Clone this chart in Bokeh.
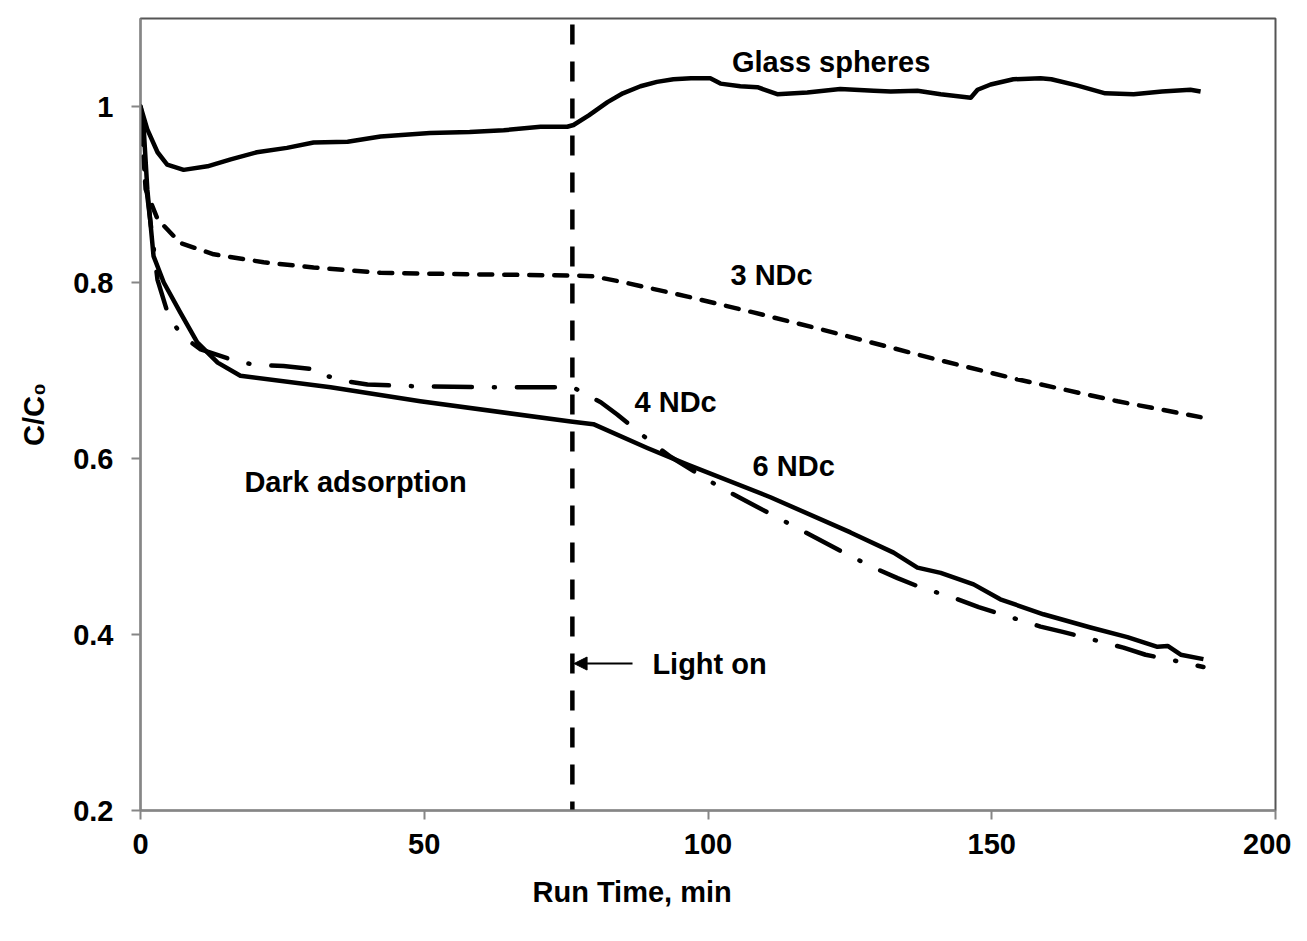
from bokeh.plotting import figure
from bokeh.models import Label, Arrow, NormalHead, FixedTicker, Range1d, Title
from bokeh.embed import file_html
from bokeh.resources import INLINE

# ---- data ----
glass_t = [0, 1.2, 3, 4.7, 7.6, 11.8, 15.9, 20.5, 25.8, 30.5, 36.5, 42.3, 51, 58, 64, 70.5, 75.2, 76.3,
           79, 82.3, 85, 88.1, 91, 93.9, 97, 100.4, 102.2, 105.7, 108.7, 112.2, 117.5, 123.3, 129.2,
           132.2, 136.9, 141, 146.3, 147.5, 149.8, 153.8, 158.6, 160.5, 165, 170, 175, 180, 185, 186.8]
glass_v = [1.0, 0.974, 0.948, 0.934, 0.928, 0.932, 0.940, 0.948, 0.953, 0.959, 0.960, 0.966, 0.970, 0.971,
           0.973, 0.977, 0.977, 0.979, 0.990, 1.005, 1.015, 1.023, 1.028, 1.031, 1.032, 1.032, 1.026,
           1.023, 1.022, 1.014, 1.016, 1.020, 1.018, 1.017, 1.018, 1.014, 1.010, 1.019, 1.025, 1.031,
           1.032, 1.031, 1.024, 1.015, 1.014, 1.017, 1.019, 1.017]

ndc3_t = [0, 0.9, 3.0, 7.0, 12.9, 21.7, 30.5, 42.3, 51.1, 62, 75.8, 79.8, 84.6, 96.4, 108, 119.8, 128.1,
          140, 154.5, 172.2, 186.8]
ndc3_v = [1.0, 0.906, 0.872, 0.845, 0.832, 0.823, 0.817, 0.811, 0.810, 0.809, 0.808, 0.807, 0.801, 0.784,
          0.766, 0.747, 0.733, 0.713, 0.690, 0.665, 0.647]

ndc4_t = [0, 0.9, 3, 5, 7.4, 10.6, 17.6, 21.5, 25.2, 31.2, 32.2, 36.1, 40, 48.8, 62.2, 76.3, 77.5, 81.1,
          84, 89.9, 93.4, 102.2, 116, 125.1, 129.9, 133.4, 136.9, 144, 147.7, 151.2, 158.6, 162.5, 166.2,
          173.2, 177.1, 181, 187.3]
ndc4_v = [1.0, 0.914, 0.803, 0.761, 0.739, 0.724, 0.709, 0.706, 0.705, 0.701, 0.695, 0.688, 0.684, 0.682,
          0.681, 0.681, 0.676, 0.664, 0.650, 0.619, 0.602, 0.567, 0.520, 0.489, 0.474, 0.464, 0.455,
          0.440, 0.431, 0.424, 0.409, 0.403, 0.397, 0.385, 0.377, 0.372, 0.363]

ndc6_t = [0, 0.5, 1.2, 2.3, 4.1, 7, 10, 13.6, 17.6, 33.5, 49.3, 75.8, 79.8, 89.3, 96.4, 111, 125.1, 132.7,
          136.9, 141, 146.8, 151.5, 159.1, 167.4, 173.9, 179.2, 181, 183.3, 187.3]
ndc6_v = [1.0, 0.982, 0.906, 0.830, 0.800, 0.766, 0.732, 0.709, 0.694, 0.681, 0.665, 0.642, 0.639, 0.612,
          0.593, 0.556, 0.516, 0.493, 0.476, 0.470, 0.457, 0.440, 0.423, 0.408, 0.397, 0.386, 0.387,
          0.377, 0.372]

light_on_t = 76.1
x_ticks = [0, 50, 100, 150, 200]
y_ticks = [0.2, 0.4, 0.6, 0.8, 1.0]
y_tick_labels = {0.2: "0.2", 0.4: "0.4", 0.6: "0.6", 0.8: "0.8", 1.0: "1"}

FONT = "Liberation Sans"
FS = "29px"

p = figure(width=1291, height=925, output_backend="svg", toolbar_location=None,
           x_range=Range1d(0, 200), y_range=Range1d(0.2, 1.1))
p.min_border_left = 140
p.min_border_right = 16
p.min_border_top = 18
p.min_border_bottom = 115
p.background_fill_color = "white"
p.border_fill_color = "white"
p.outline_line_color = "#555555"
p.outline_line_width = 2
p.xgrid.visible = False
p.ygrid.visible = False

for ax in (p.xaxis[0], p.yaxis[0]):
    ax.axis_line_color = "#868686"
    ax.axis_line_width = 2
    ax.major_tick_line_color = "#868686"
    ax.major_tick_line_width = 2
    ax.major_tick_out = 9
    ax.major_tick_in = 0
    ax.minor_tick_line_color = None
    ax.major_label_text_font = FONT
    ax.major_label_text_font_style = "bold"
    ax.major_label_text_font_size = FS
    ax.major_label_text_color = "black"

p.xaxis[0].ticker = FixedTicker(ticks=x_ticks)
p.yaxis[0].ticker = FixedTicker(ticks=y_ticks)
p.yaxis[0].major_label_overrides = y_tick_labels
p.xaxis[0].major_label_standoff = 14
p.yaxis[0].major_label_standoff = 18

# y-axis title
p.yaxis[0].axis_label = "C/C\u2080"
p.yaxis[0].axis_label_text_font = FONT
p.yaxis[0].axis_label_text_font_style = "bold"
p.yaxis[0].axis_label_text_font_size = FS
p.yaxis[0].axis_label_text_color = "black"
p.yaxis[0].axis_label_standoff = 20

# x-axis title (offset to the left as in the reference)
p.add_layout(Title(text="Run Time, min", align="left", offset=392, text_font=FONT,
                   text_font_style="bold", text_font_size=FS, text_color="black",
                   standoff=35), "below")

# curves
p.line(glass_t, glass_v, line_color="black", line_width=4.5, line_join="round")
p.line(ndc3_t, ndc3_v, line_color="black", line_width=4.5, line_dash="13 12", line_cap="round",
       line_join="round")
p.line(ndc4_t, ndc4_v, line_color="black", line_width=4.5, line_dash="38 22 1 22", line_cap="round",
       line_join="round")
p.line(ndc6_t, ndc6_v, line_color="black", line_width=4.5, line_join="round")

# light-on vertical dashed line
p.line([light_on_t, light_on_t], [1.1, 0.2], line_color="black", line_width=4.5, line_dash="20 17",
       line_dash_offset=-6)

# arrow
p.add_layout(Arrow(x_start=86.7, y_start=0.367, x_end=light_on_t + 0.3, y_end=0.367,
                   line_color="black", line_width=2,
                   end=NormalHead(size=13, fill_color="black", line_color="black")))


def lab(x, y, text, align="center"):
    p.add_layout(Label(x=x, y=y, text=text, text_font=FONT, text_font_style="bold",
                       text_font_size=FS, text_color="black", text_align=align,
                       text_baseline="middle"))


lab(121.7, 1.051, "Glass spheres")
lab(111.2, 0.808, "3 NDc")
lab(94.3, 0.664, "4 NDc")
lab(115.1, 0.592, "6 NDc")
lab(37.9, 0.573, "Dark adsorption")
lab(90.2, 0.367, "Light on", align="left")

open("out.html", "w").write(file_html(p, INLINE))
